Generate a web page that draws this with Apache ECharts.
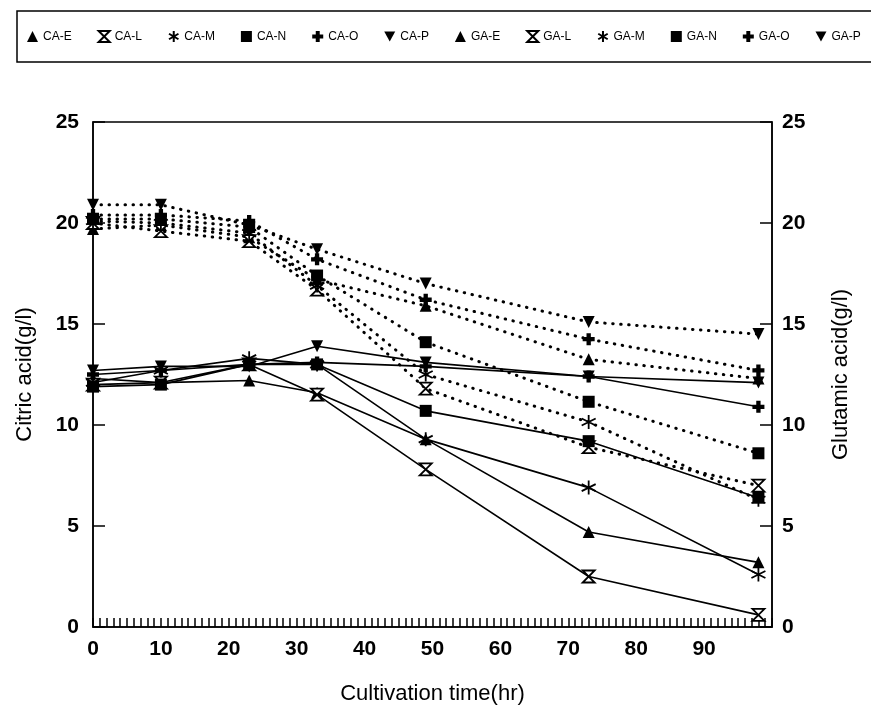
<!DOCTYPE html>
<html>
<head>
<meta charset="utf-8">
<script src="https://cdn.jsdelivr.net/npm/echarts@6/dist/echarts.min.js"></script>
<style>
	html, body { margin: 0; padding: 0; background: #fff; }
	#chart { width: 871px; height: 722px; }
</style>
</head>
<body>
<div id="chart"></div>
<script>
// sampling times (hr)
var hours = [0, 10, 23, 33, 49, 73, 98];

// citric acid (g/l), left axis
var caE = [12.3, 12.1, 12.2, 11.6, 9.3, 4.7, 3.2];
var caL = [12.0, 12.1, 13.0, 11.5, 7.8, 2.5, 0.6];
var caM = [12.1, 12.7, 13.3, 13.0, 9.3, 6.9, 2.6];
var caN = [11.9, 12.0, 13.0, 13.0, 10.7, 9.2, 6.4];
var caO = [12.5, 12.7, 13.0, 13.1, 12.9, 12.4, 10.9];
var caP = [12.7, 12.9, 12.9, 13.9, 13.1, 12.4, 12.1];

// glutamic acid (g/l), right axis
var gaE = [19.7, 19.9, 19.3, 17.2, 15.9, 13.25, 12.3];
var gaL = [20.0, 19.6, 19.1, 16.7, 11.8, 8.9, 7.0];
var gaM = [20.1, 20.0, 19.5, 16.9, 12.5, 10.15, 6.3];
var gaN = [20.2, 20.2, 19.8, 17.4, 14.1, 11.15, 8.6];
var gaO = [20.4, 20.4, 20.1, 18.2, 16.2, 14.25, 12.7];
var gaP = [20.9, 20.9, 19.9, 18.7, 17.0, 15.1, 14.5];

var xTicks = [0, 10, 20, 30, 40, 50, 60, 70, 80, 90];

// marker shapes
var TRI = 'triangle';
var TRI_DOWN = 'path://M0,0L10,0L5,9Z';
var HOURGLASS = 'path://M0,0L10,0L5,5L10,10L0,10L5,5Z';
var ASTER = 'path://M5,0L5,10M0.7,2.5L9.3,7.5M0.7,7.5L9.3,2.5';
var SQUARE = 'rect';
var CROSS = 'path://M3.2,0H6.8V3.2H10V6.8H6.8V10H3.2V6.8H0V3.2H3.2Z';

var pairs = vals => hours.map((h, i) => [h, vals[i]]);

var makeSeries = (name, vals, symbol, dotted) => {
	var hollow = symbol === HOURGLASS;
	var aster = symbol === ASTER;
	return {
		name: name,
		type: 'line',
		yAxisIndex: dotted ? 1 : 0,
		data: pairs(vals),
		symbol: symbol,
		symbolSize: aster ? 14 : 12,
		showSymbol: true,
		lineStyle: dotted
			? { color: '#000', width: 3, type: [0.5, 7.5], cap: 'round' }
			: { color: '#000', width: 1.6 },
		itemStyle: {
			color: hollow ? '#fff' : '#000',
			borderColor: '#000',
			borderWidth: (hollow || aster) ? 1.8 : 0
		},
		z: dotted ? 2 : 3
	};
};

var seriesDefs = [
	['CA-E', caE, TRI, false],
	['CA-L', caL, HOURGLASS, false],
	['CA-M', caM, ASTER, false],
	['CA-N', caN, SQUARE, false],
	['CA-O', caO, CROSS, false],
	['CA-P', caP, TRI_DOWN, false],
	['GA-E', gaE, TRI, true],
	['GA-L', gaL, HOURGLASS, true],
	['GA-M', gaM, ASTER, true],
	['GA-N', gaN, SQUARE, true],
	['GA-O', gaO, CROSS, true],
	['GA-P', gaP, TRI_DOWN, true]
];

var chart = echarts.init(document.getElementById('chart'));

var labelFont = {
	color: '#000',
	fontFamily: 'Liberation Sans, Arial, sans-serif',
	fontSize: 21,
	fontWeight: 'bold'
};
var titleFont = {
	color: '#000',
	fontFamily: 'Liberation Sans, Arial, sans-serif',
	fontSize: 22
};

var option = {
	animation: false,
	backgroundColor: '#fff',
	legend: {
		left: 17,
		top: 11,
		width: 920,
		padding: [19, 40, 19, 10],
		borderColor: '#000',
		borderWidth: 1.5,
		itemWidth: 11,
		itemHeight: 11,
		itemGap: 26,
		textStyle: {
			color: '#000',
			fontFamily: 'Liberation Sans, Arial, sans-serif',
			fontSize: 12
		},
		data: seriesDefs.map(d => ({ name: d[0], icon: d[2] }))
	},
	grid: {
		left: 93,
		right: 99,
		top: 122,
		bottom: 95,
		show: true,
		borderColor: '#000',
		borderWidth: 1.5
	},
	xAxis: {
		type: 'value',
		min: 0,
		max: 100,
		interval: 10,
		name: 'Cultivation time(hr)',
		nameLocation: 'middle',
		nameGap: 56,
		nameTextStyle: titleFont,
		axisLine: { lineStyle: { color: '#000', width: 1.5 } },
		axisTick: { inside: true, length: 9, lineStyle: { color: '#000', width: 1.5 } },
		minorTick: { show: true, splitNumber: 10, length: 9, lineStyle: { color: '#000', width: 1.5 } },
		splitLine: { show: false },
		axisLabel: Object.assign({
			margin: 12,
			formatter: v => xTicks.indexOf(v) >= 0 ? String(v) : ''
		}, labelFont)
	},
	yAxis: [{
		type: 'value',
		position: 'left',
		min: 0,
		max: 25,
		interval: 5,
		name: 'Citric acid(g/l)',
		nameLocation: 'middle',
		nameGap: 57,
		nameTextStyle: titleFont,
		axisLine: { show: true, lineStyle: { color: '#000', width: 1.5 } },
		axisTick: { show: true, inside: true, length: 12, lineStyle: { color: '#000', width: 1.5 } },
		splitLine: { show: false },
		axisLabel: Object.assign({ margin: 14 }, labelFont)
	}, {
		type: 'value',
		position: 'right',
		min: 0,
		max: 25,
		interval: 5,
		name: 'Glutamic acid(g/l)',
		nameLocation: 'middle',
		nameGap: 58,
		nameRotate: 90,
		nameTextStyle: titleFont,
		axisLine: { show: true, lineStyle: { color: '#000', width: 1.5 } },
		axisTick: { show: true, inside: true, length: 12, lineStyle: { color: '#000', width: 1.5 } },
		splitLine: { show: false },
		axisLabel: Object.assign({ margin: 10 }, labelFont)
	}],
	series: seriesDefs.map(d => makeSeries(d[0], d[1], d[2], d[3]))
};

chart.setOption(option);
</script>
</body>
</html>
